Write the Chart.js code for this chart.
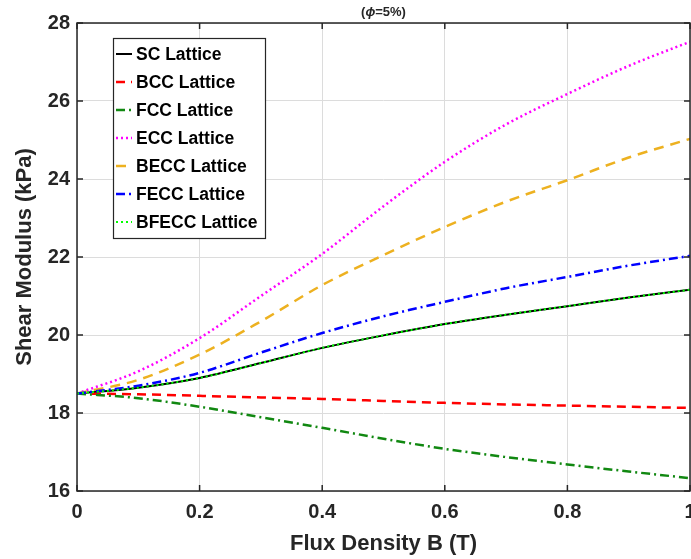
<!DOCTYPE html>
<html>
<head>
<meta charset="utf-8">
<script src="https://cdn.jsdelivr.net/npm/chart.js@4.4.0/dist/chart.umd.min.js"></script>
<style>
html,body{margin:0;padding:0;background:#fff;}
#wrap{width:691px;height:559px;position:relative;}
</style>
</head>
<body>
<div id="wrap"><canvas id="c" width="691" height="559"></canvas></div>
<script>
const fluxB = [0, 0.1, 0.2, 0.3, 0.4, 0.5, 0.6, 0.7, 0.8, 0.9, 1.0];
const scLattice    = [18.5, 18.65, 18.9, 19.28, 19.67, 19.99, 20.28, 20.52, 20.74, 20.96, 21.16];
const bccLattice   = [18.5, 18.48, 18.44, 18.40, 18.36, 18.31, 18.26, 18.22, 18.19, 18.16, 18.13];
const fccLattice   = [18.5, 18.38, 18.16, 17.89, 17.62, 17.34, 17.08, 16.87, 16.68, 16.5, 16.33];
const eccLattice   = [18.5, 19.07, 19.92, 21.0, 22.08, 23.3, 24.44, 25.4, 26.18, 26.9, 27.52];
const beccLattice  = [18.5, 18.85, 19.5, 20.35, 21.28, 22.05, 22.77, 23.42, 23.97, 24.55, 25.03];
const feccLattice  = [18.5, 18.7, 19.03, 19.55, 20.05, 20.48, 20.85, 21.2, 21.49, 21.78, 22.03];
const bfeccLattice = [18.5, 18.65, 18.9, 19.28, 19.67, 19.99, 20.28, 20.52, 20.74, 20.96, 21.16];
const xTicks = [0, 0.2, 0.4, 0.6, 0.8, 1];
const yTicks = [16, 18, 20, 22, 24, 26, 28];
const seriesNames = ['SC Lattice','BCC Lattice','FCC Lattice','ECC Lattice','BECC Lattice','FECC Lattice','BFECC Lattice'];

const toPts = arr => arr.map((v,i)=>({x:fluxB[i], y:v}));
const FONT = "'Liberation Sans', Arial, sans-serif";
const TXT = '#262626';

const styles = [
  {c:'#000000', d:[], w:2},
  {c:'#ff0000', d:[9,6], w:2.5},
  {c:'#118811', d:[9,4,2,4], w:2.5},
  {c:'#ff00ff', d:[2,3], w:2.5},
  {c:'#edb120', d:[10,7], w:2.5},
  {c:'#0000ff', d:[9,4,2,4], w:2.5},
  {c:'#00ff00', d:[2,3], w:2}
];
const dataArr = [scLattice, bccLattice, fccLattice, eccLattice, beccLattice, feccLattice, bfeccLattice];

const datasets = dataArr.map((arr,i)=>({
  label: seriesNames[i],
  data: toPts(arr),
  borderColor: styles[i].c,
  borderDash: styles[i].d,
  borderWidth: styles[i].w,
  pointRadius: 0,
  fill: false,
  cubicInterpolationMode: 'monotone',
  order: 10 - i
}));

const framePlugin = {
  id: 'frame',
  afterDatasetsDraw(chart){
    const ctx = chart.ctx, a = chart.chartArea;
    const xs = chart.scales.x, ys = chart.scales.y;
    ctx.save();
    ctx.strokeStyle = TXT;
    ctx.lineWidth = 1.5;
    ctx.setLineDash([]);
    ctx.strokeRect(a.left, a.top, a.right - a.left, a.bottom - a.top);
    ctx.beginPath();
    xTicks.forEach(t=>{
      const px = xs.getPixelForValue(t);
      ctx.moveTo(px, a.bottom); ctx.lineTo(px, a.bottom - 6);
      ctx.moveTo(px, a.top); ctx.lineTo(px, a.top + 6);
    });
    yTicks.forEach(t=>{
      const py = ys.getPixelForValue(t);
      ctx.moveTo(a.left, py); ctx.lineTo(a.left + 6, py);
      ctx.moveTo(a.right, py); ctx.lineTo(a.right - 6, py);
    });
    ctx.stroke();

    // title
    ctx.fillStyle = TXT;
    ctx.textBaseline = 'middle';
    const cx = (a.left + a.right)/2, ty = 12;
    const p1 = '(', p2 = 'ϕ', p3 = '=5%)';
    const fs = 13;
    ctx.font = 'bold ' + fs + 'px ' + FONT;
    const w1 = ctx.measureText(p1).width, w3 = ctx.measureText(p3).width;
    ctx.font = 'italic bold ' + fs + 'px ' + FONT;
    const w2 = ctx.measureText(p2).width;
    let x0 = cx - (w1+w2+w3)/2;
    ctx.textAlign = 'left';
    ctx.font = 'bold ' + fs + 'px ' + FONT; ctx.fillText(p1, x0, ty);
    ctx.font = 'italic bold ' + fs + 'px ' + FONT; ctx.fillText(p2, x0 + w1, ty);
    ctx.font = 'bold ' + fs + 'px ' + FONT; ctx.fillText(p3, x0 + w1 + w2, ty);

    // legend
    const lx = 113, ly = 38, lw = 152, lh = 200;
    ctx.fillStyle = '#ffffff';
    ctx.fillRect(lx, ly, lw, lh);
    ctx.strokeStyle = TXT;
    ctx.lineWidth = 1.2;
    ctx.strokeRect(lx + 0.5, ly + 0.5, lw, lh);
    ctx.font = 'bold 17.5px ' + FONT;
    ctx.textBaseline = 'middle';
    seriesNames.forEach((n,i)=>{
      const yy = ly + 16 + i*28;
      ctx.save();
      ctx.strokeStyle = styles[i].c;
      ctx.lineWidth = styles[i].w;
      ctx.setLineDash(styles[i].d);
      ctx.beginPath();
      ctx.moveTo(lx + 3, yy); ctx.lineTo(lx + 19, yy);
      ctx.stroke();
      ctx.restore();
      ctx.fillStyle = '#000';
      ctx.fillText(n, lx + 23, yy + 1);
    });
    ctx.restore();
  }
};

new Chart(document.getElementById('c'), {
  type: 'line',
  data: { datasets },
  options: {
    responsive: false,
    animation: false,
    events: [],
    layout: { padding: { top: 23, right: 1, left: 0, bottom: 0 } },
    plugins: { legend: { display: false }, title: { display: false }, tooltip: { enabled: false } },
    scales: {
      x: {
        type: 'linear', min: 0, max: 1,
        afterBuildTicks(s){ s.ticks = xTicks.map(v=>({value:v})); },
        afterFit(s){ s.height = 68; s.paddingLeft = 0; s.paddingRight = 0; },
        grid: { color: '#dcdcdc', lineWidth: 1, drawTicks: false },
        border: { display: false },
        ticks: { color: TXT, font: { family: FONT, size: 20, weight: 'bold' }, padding: 9, maxRotation: 0,
                 callback: v => String(v) },
        title: { display: true, text: 'Flux Density B (T)', color: TXT,
                 font: { family: FONT, size: 22, weight: 'bold' }, padding: { top: 2, bottom: 2 } }
      },
      y: {
        type: 'linear', min: 16, max: 28,
        afterBuildTicks(s){ s.ticks = yTicks.map(v=>({value:v})); },
        afterFit(s){ s.width = 77; s.paddingTop = 0; s.paddingBottom = 0; },
        grid: { color: '#dcdcdc', lineWidth: 1, drawTicks: false },
        border: { display: false },
        ticks: { color: TXT, font: { family: FONT, size: 20, weight: 'bold' }, padding: 7,
                 callback: v => String(v) },
        title: { display: true, text: 'Shear Modulus (kPa)', color: TXT,
                 font: { family: FONT, size: 22, weight: 'bold' }, padding: { top: 12, bottom: 0 } }
      }
    }
  },
  plugins: [framePlugin]
});
</script>
</body>
</html>
